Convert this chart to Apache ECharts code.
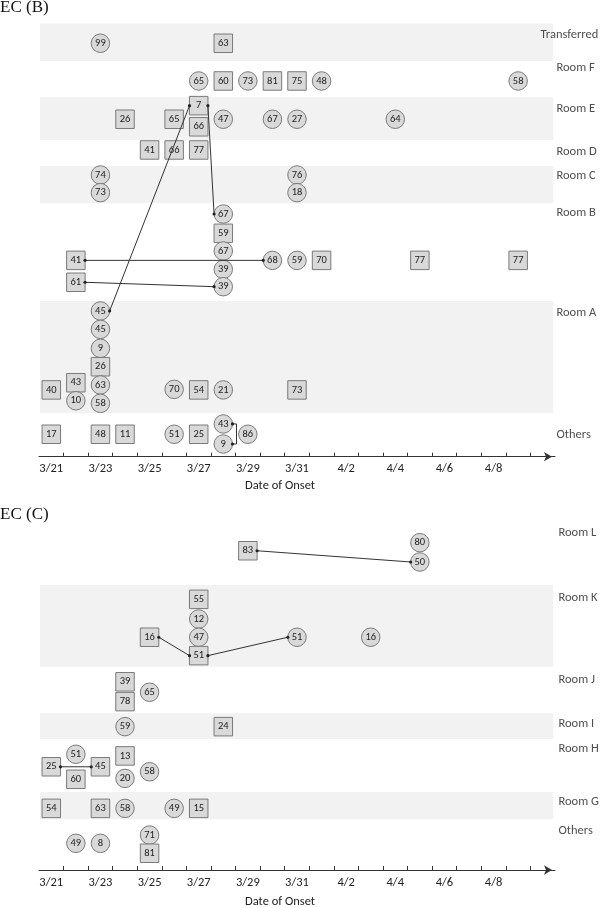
<!DOCTYPE html>
<html><head><meta charset="utf-8">
<script src="https://cdn.jsdelivr.net/npm/echarts@6/dist/echarts.min.js"></script>
<style>html,body{margin:0;padding:0;background:#fff}#c{width:600px;height:908px}</style>
</head><body><div id="c"></div>
<script>
// ---------- DATA ----------
const days = ['3/21','3/22','3/23','3/24','3/25','3/26','3/27','3/28','3/29','3/30','3/31',
              '4/1','4/2','4/3','4/4','4/5','4/6','4/7','4/8','4/9','4/10'];
const tickLabels = ['3/21','3/23','3/25','3/27','3/29','3/31','4/2','4/4','4/6','4/8'];

// Panel B rows (top to bottom), row label level, row edges (levels)
const rowsB = ['Transferred','Room F','Room E','Room D','Room C','Room B','Room A','Others'];
const rowLabelLevelB = [22.92, 21.11, 18.9, 16.58, 15.27, 13.23, 7.79, 1.18];
const rowEdgesB = [23.55, 21.5, 19.53, 17.21, 15.8, 13.77, 8.46, 2.36, 0];
// markers: [onset day, level, age, shape (s = square, c = circle)]
const markersB = [
  ['3/23',22.47,99,'c'], ['3/28',22.47,63,'s'],
  ['3/27',20.42,65,'c'], ['3/28',20.42,60,'s'], ['3/29',20.42,73,'c'], ['3/30',20.42,81,'s'],
  ['3/31',20.42,75,'s'], ['4/1',20.42,48,'c'], ['4/9',20.42,58,'c'],
  ['3/27',19.08,7,'s'], ['3/24',18.34,26,'s'], ['3/26',18.34,65,'s'], ['3/27',17.93,66,'s'],
  ['3/28',18.34,47,'c'], ['3/30',18.34,67,'c'], ['3/31',18.34,27,'c'], ['4/4',18.34,64,'c'],
  ['3/25',16.67,41,'s'], ['3/26',16.67,66,'s'], ['3/27',16.67,77,'s'],
  ['3/23',15.31,74,'c'], ['3/23',14.35,73,'c'], ['3/31',15.31,76,'c'], ['3/31',14.35,18,'c'],
  ['3/28',13.19,67,'c'], ['3/28',12.14,59,'s'], ['3/28',11.18,67,'c'], ['3/28',10.18,39,'c'],
  ['3/28',9.24,39,'c'], ['3/22',10.67,41,'s'], ['3/30',10.67,68,'c'], ['3/31',10.67,59,'c'],
  ['4/1',10.67,70,'s'], ['4/5',10.67,77,'s'], ['4/9',10.67,77,'s'], ['3/22',9.48,61,'s'],
  ['3/23',7.92,45,'c'], ['3/23',6.92,45,'c'], ['3/23',5.89,9,'c'], ['3/23',4.89,26,'s'],
  ['3/23',3.90,63,'c'], ['3/23',2.90,58,'c'], ['3/21',3.63,40,'s'], ['3/22',4.02,43,'s'],
  ['3/22',3.04,10,'c'], ['3/26',3.66,70,'c'], ['3/27',3.63,54,'s'], ['3/28',3.63,21,'c'],
  ['3/31',3.63,73,'s'],
  ['3/21',1.22,17,'s'], ['3/23',1.22,48,'s'], ['3/24',1.22,11,'s'], ['3/26',1.22,51,'c'],
  ['3/27',1.22,25,'s'], ['3/28',1.78,43,'c'], ['3/28',0.69,9,'c'], ['3/29',1.22,86,'c']
];
// links: [from marker index, to marker index, kind (0 = straight, 1 = bracket)]
const linksB = [[36,9,0],[9,24,0],[29,30,0],[35,28,0],[54,55,1]];

// Panel C
const rowsC = ['Room L','Room K','Room J','Room I','Room H','Room G','Others'];
const rowLabelLevelC = [18.30, 14.80, 10.36, 7.92, 6.61, 3.71, 2.12];
const rowEdgesC = [18.59, 15.49, 11.04, 8.52, 7.12, 4.24, 2.76, 0];
const markersC = [
  ['3/29',17.35,83,'s'], ['4/5',17.79,80,'c'], ['4/5',16.74,50,'c'],
  ['3/27',14.71,55,'s'], ['3/27',13.64,12,'c'], ['3/27',12.65,47,'c'], ['3/27',11.65,51,'s'],
  ['3/25',12.65,16,'s'], ['3/31',12.65,51,'c'], ['4/3',12.65,16,'c'],
  ['3/24',10.23,39,'s'], ['3/24',9.15,78,'s'], ['3/25',9.66,65,'c'],
  ['3/24',7.79,59,'c'], ['3/28',7.79,24,'s'],
  ['3/22',6.29,51,'c'], ['3/21',5.61,25,'s'], ['3/22',4.93,60,'s'], ['3/23',5.61,45,'s'],
  ['3/24',6.20,13,'s'], ['3/24',4.98,20,'c'], ['3/25',5.34,58,'c'],
  ['3/21',3.35,54,'s'], ['3/23',3.35,63,'s'], ['3/24',3.35,58,'c'], ['3/26',3.35,49,'c'],
  ['3/27',3.35,15,'s'],
  ['3/22',1.45,49,'c'], ['3/23',1.45,8,'c'], ['3/25',1.90,71,'c'], ['3/25',0.91,81,'s']
];
const linksC = [[0,2,0],[7,6,0],[6,8,0],[16,18,0]];

// ---------- CHART ----------
const FONT = 'Carlito, Lato, "Liberation Sans", sans-serif';
const HALF = 9.2;
const dayX = d => days.indexOf(d) + 0.5;

function buildPanel(gi, rows, labelLevels, edges, markers, links, labelDist) {
  const n = rows.length;
  const bands = [];
  for (let i = 0; i < n; i++) {
    if ((n - 1 - i) % 2 === 1) bands.push([edges[i], edges[i + 1]]);
  }
  const series = [];
  series.push({
    type: 'custom', xAxisIndex: gi, yAxisIndex: gi, z: 1, silent: true,
    data: bands,
    renderItem: (p, api) => {
      const a = api.coord([0.04, api.value(0)]);
      const b = api.coord([20.93, api.value(1)]);
      return { type: 'rect', shape: { x: a[0], y: a[1], width: b[0] - a[0], height: b[1] - a[1] },
               style: { fill: '#f2f2f2' } };
    }
  });
  series.push({
    type: 'scatter', xAxisIndex: gi, yAxisIndex: gi, z: 3, silent: true,
    symbolSize: 18.5,
    itemStyle: { color: '#d9d9d9', borderColor: '#7a7a7a', borderWidth: 1, opacity: 1 },
    label: { show: true, position: 'inside', formatter: p => String(p.value[2]),
             fontSize: 10.5, color: '#222', fontFamily: FONT },
    data: markers.map(m => ({ value: [dayX(m[0]), m[1], m[2]], symbol: m[3] === 's' ? 'rect' : 'circle' }))
  });
  series.push({
    type: 'custom', xAxisIndex: gi, yAxisIndex: gi, z: 5, silent: true,
    data: links.map(l => {
      const a = markers[l[0]], b = markers[l[1]];
      return [dayX(a[0]), a[1], dayX(b[0]), b[1], l[2]];
    }),
    renderItem: (p, api) => {
      const a = api.coord([api.value(0), api.value(1)]);
      const b = api.coord([api.value(2), api.value(3)]);
      let pts;
      if (api.value(4) === 1) {
        const xr = a[0] + HALF + 4;
        pts = [[a[0] + HALF, a[1]], [xr, a[1]], [xr, b[1]], [b[0] + HALF, b[1]]];
      } else {
        const L = a[0] <= b[0] ? a : b, R = a[0] <= b[0] ? b : a;
        pts = [[L[0] + HALF, L[1]], [R[0] - HALF, R[1]]];
      }
      const e = pts[pts.length - 1];
      return { type: 'group', children: [
        { type: 'polyline', shape: { points: pts }, style: { stroke: '#333', lineWidth: 1, fill: null } },
        { type: 'circle', shape: { cx: pts[0][0], cy: pts[0][1], r: 1.6 }, style: { fill: '#222' } },
        { type: 'circle', shape: { cx: e[0], cy: e[1], r: 1.6 }, style: { fill: '#222' } }
      ]};
    }
  });
  series.push({
    type: 'scatter', xAxisIndex: gi, yAxisIndex: gi, z: 4, silent: true, clip: false,
    symbolSize: 1, itemStyle: { color: 'rgba(0,0,0,0)' },
    label: { show: true, position: 'right', distance: labelDist, formatter: '{b}',
             fontSize: 12.5, color: '#222', fontFamily: FONT },
    data: rows.map((r, i) => ({
      name: r, value: [21, labelLevels[i]],
      label: r === 'Transferred' ? { offset: [-16, 0] } : {}
    }))
  });
  return series;
}

function xAxisFor(gi) {
  const ticks = []; for (let i = 1; i < days.length; i++) ticks.push(i);
  return {
    gridIndex: gi, type: 'value', min: 0, max: days.length,
    splitLine: { show: false },
    axisLine: { show: true, onZero: false, lineStyle: { color: '#333', width: 1 },
                symbol: ['none', 'arrow'], symbolSize: [7, 8], symbolOffset: [0, -3] },
    axisTick: { show: true, inside: true, length: 4, customValues: ticks, lineStyle: { color: '#333' } },
    axisLabel: { show: true, customValues: tickLabels.map(dayX), margin: 6,
                 formatter: v => days[Math.floor(v)], fontSize: 12.5, color: '#222', fontFamily: FONT }
  };
}

const chart = echarts.init(document.getElementById('c'), null, { renderer: 'canvas' });
chart.setOption({
  animation: false,
  backgroundColor: '#fff',
  grid: [
    { left: 39, right: 45, top: 15.1, height: 441.6, outerBoundsMode: 'none', containLabel: false },
    { left: 39, right: 45, top: 511.2, height: 358.8, outerBoundsMode: 'none', containLabel: false }
  ],
  xAxis: [xAxisFor(0), xAxisFor(1)],
  yAxis: [
    { gridIndex: 0, type: 'value', min: 0, max: 24, show: false },
    { gridIndex: 1, type: 'value', min: 0, max: 19.5, show: false }
  ],
  graphic: [
    { type: 'text', x: 0, y: 8, style: { text: 'EC (B)', font: '17px "Liberation Serif", serif', fill: '#111', textVerticalAlign: 'middle' } },
    { type: 'text', x: 0, y: 515, style: { text: 'EC (C)', font: '17px "Liberation Serif", serif', fill: '#111', textVerticalAlign: 'middle' } },
    { type: 'text', x: 280, y: 486, style: { text: 'Date of Onset', font: '12.5px ' + FONT, fill: '#222', textAlign: 'center', textVerticalAlign: 'middle' } },
    { type: 'text', x: 280, y: 902, style: { text: 'Date of Onset', font: '12.5px ' + FONT, fill: '#222', textAlign: 'center', textVerticalAlign: 'middle' } }
  ],
  series: [].concat(
    buildPanel(0, rowsB, rowLabelLevelB, rowEdgesB, markersB, linksB, 1),
    buildPanel(1, rowsC, rowLabelLevelC, rowEdgesC, markersC, linksC, 3)
  )
});
</script>
</body></html>
